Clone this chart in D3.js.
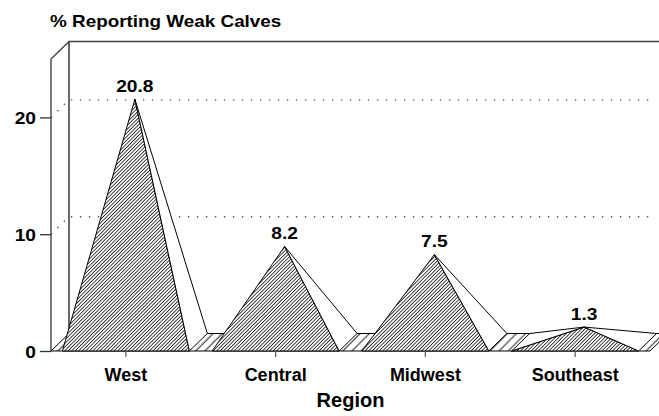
<!doctype html>
<html lang="en">
<head>
    <meta charset="UTF-8">
    <title>% Reporting Weak Calves</title>
    <script src="https://d3js.org/d3.v7.min.js"></script>
    <style>
        body { margin: 0; background: #fff; }
        svg { display: block; }
        text { font-family: "Liberation Sans", Arial, Helvetica, sans-serif; font-weight: bold; fill: #000; }
    </style>
</head>
<body>
<script>
    // data
    var regions = ['West', 'Central', 'Midwest', 'Southeast'];
    var pctWeak = [20.8, 8.2, 7.5, 1.3];
    var yTicks = [0, 10, 20];

    var width = 659, height = 416;
    var depthX = 18, depthY = -17.5;   // oblique offset of the back plane

    var svg = d3.select('body').append('svg')
        .attr('width', width)
        .attr('height', height);

    var defs = svg.append('defs');
    // dense hatch for the front faces (white underneath)
    var hp = defs.append('pattern')
        .attr('id', 'hatch')
        .attr('patternUnits', 'userSpaceOnUse')
        .attr('width', 2.5).attr('height', 10)
        .attr('patternTransform', 'rotate(45)');
    hp.append('rect').attr('width', 2.5).attr('height', 10).attr('fill', '#fff');
    hp.append('line')
        .attr('x1', 1.25).attr('y1', 0).attr('x2', 1.25).attr('y2', 10)
        .attr('stroke', '#000').attr('stroke-width', 0.8);
    // sparse hatch on the floor
    var fp = defs.append('pattern')
        .attr('id', 'floorHatch')
        .attr('patternUnits', 'userSpaceOnUse')
        .attr('width', 6.5).attr('height', 10)
        .attr('patternTransform', 'rotate(45)');
    fp.append('rect').attr('width', 6.5).attr('height', 10).attr('fill', '#fff');
    fp.append('line')
        .attr('x1', 3).attr('y1', 0).attr('x2', 3).attr('y2', 10)
        .attr('stroke', '#000').attr('stroke-width', 0.9);

    var x = d3.scaleBand()
        .domain(regions)
        .range([51, 650])
        .paddingInner(0.152)
        .paddingOuter(0.076);

    var y = d3.scaleLinear()
        .domain([0, 25])
        .range([351, 59]);

    // project a point: px on the front, value v, depth z (0 front .. 1 back)
    function P(px, v, z) {
        return [px + z * depthX, y(v) + z * depthY];
    }

    // widen text horizontally around its anchor
    function stretch(sel, sx) {
        sel.each(function () {
            var t = d3.select(this);
            var tx = +t.attr('x') || 0, ty = +t.attr('y') || 0;
            t.attr('x', 0).attr('y', 0)
             .attr('transform', 'translate(' + tx + ',' + ty + ') scale(' + sx + ',1)');
        });
    }

    var x0 = x.range()[0], x1 = x.range()[1];
    var yMax = y.domain()[1];

    // frame: back wall, top edge and left side
    var frame = svg.append('g').attr('fill', 'none');
    frame.append('path')
        .attr('d', d3.line()([P(x0, 0, 1), P(x0, yMax, 1), [width, P(x0, yMax, 1)[1]]]))
        .attr('stroke', '#444').attr('stroke-width', 1.6);
    frame.append('path')
        .attr('d', d3.line()([P(x0, 0, 0), P(x0, yMax, 0), P(x0, yMax, 1)]))
        .attr('stroke', '#444').attr('stroke-width', 1.4);

    // dotted gridlines: from front axis back to the wall, then across
    svg.append('g')
        .selectAll('path')
        .data(yTicks.filter(function (d) { return d > 0; }))
        .enter().append('path')
        .attr('d', function (d) {
            return d3.line()([P(x0, d, 0), P(x0, d, 1), [width - 4, P(x0, d, 1)[1]]]);
        })
        .attr('fill', 'none')
        .attr('stroke', '#555')
        .attr('stroke-width', 1.4)
        .attr('stroke-dasharray', '1.4 7.6');

    // floor
    svg.append('path')
        .attr('d', d3.line()([P(x0, 0, 0), P(x1, 0, 0), P(x1, 0, 1), P(x0, 0, 1)]) + 'Z')
        .attr('fill', 'url(#floorHatch)')
        .attr('stroke', '#000')
        .attr('stroke-width', 1);

    // pyramids
    var bars = regions.map(function (r, i) {
        var l = x(r), rr = x(r) + x.bandwidth(), c = x(r) + x.bandwidth() / 2;
        var FL = P(l, 0, 0), FR = P(rr, 0, 0), BR = P(rr, 0, 1), BL = P(l, 0, 1);
        var A = P(c, pctWeak[i], 0.5);
        return {
            region: r, value: pctWeak[i], apex: A,
            faces: [
                { pts: [FL, FR, A], fill: 'url(#hatch)' },
                { pts: [FR, BR, A], fill: '#fff' },
                { pts: [BR, BL, A], fill: '#fff' },
                { pts: [BL, FL, A], fill: '#fff' }
            ]
        };
    });

    function facing(f) {
        var a = f.pts[0], b = f.pts[1], c = f.pts[2];
        return (b[0] - a[0]) * (c[1] - a[1]) - (b[1] - a[1]) * (c[0] - a[0]) < 0;
    }

    var pyr = svg.append('g')
        .selectAll('g')
        .data(bars)
        .enter().append('g');

    pyr.selectAll('path')
        .data(function (d) { return d.faces.filter(facing); })
        .enter().append('path')
        .attr('d', function (f) { return d3.line()(f.pts) + 'Z'; })
        .attr('fill', function (f) { return f.fill; })
        .attr('stroke', '#000')
        .attr('stroke-width', 1)
        .attr('stroke-linejoin', 'round');

    // value labels above the apex
    var vals = svg.append('g')
        .selectAll('text')
        .data(bars)
        .enter().append('text')
        .attr('x', function (d) { return d.apex[0]; })
        .attr('y', function (d) { return d.apex[1] - 7.5; })
        .attr('text-anchor', 'middle')
        .attr('font-size', 16)
        .text(function (d) { return d.value.toFixed(1); });
    stretch(vals, 1.2);

    // y axis
    var yAxis = svg.append('g')
        .attr('transform', 'translate(' + x0 + ',0)')
        .call(d3.axisLeft(y).tickValues(yTicks).tickSize(11).tickPadding(4));
    yAxis.select('.domain').remove();
    yAxis.selectAll('line').attr('stroke', '#333').attr('stroke-width', 1.3);
    yAxis.selectAll('text')
        .attr('font-size', 16)
        .attr('font-family', null)
        .attr('dy', '0.4em');
    stretch(yAxis.selectAll('text'), 1.2);

    // x axis
    var xAxis = svg.append('g')
        .attr('transform', 'translate(0,' + y(0) + ')')
        .call(d3.axisBottom(x).tickSize(6).tickPadding(11));
    xAxis.select('.domain').remove();
    xAxis.selectAll('line').attr('stroke', '#555').attr('stroke-width', 1.2);
    xAxis.selectAll('text')
        .attr('font-size', 18)
        .attr('font-family', null);

    // titles
    var title = svg.append('text')
        .attr('x', 50)
        .attr('y', 27)
        .attr('font-size', 16)
        .text('% Reporting Weak Calves');
    stretch(title, 1.18);

    svg.append('text')
        .attr('x', (x0 + x1) / 2)
        .attr('y', 406.5)
        .attr('text-anchor', 'middle')
        .attr('font-size', 20)
        .text('Region');
</script>
</body>
</html>
